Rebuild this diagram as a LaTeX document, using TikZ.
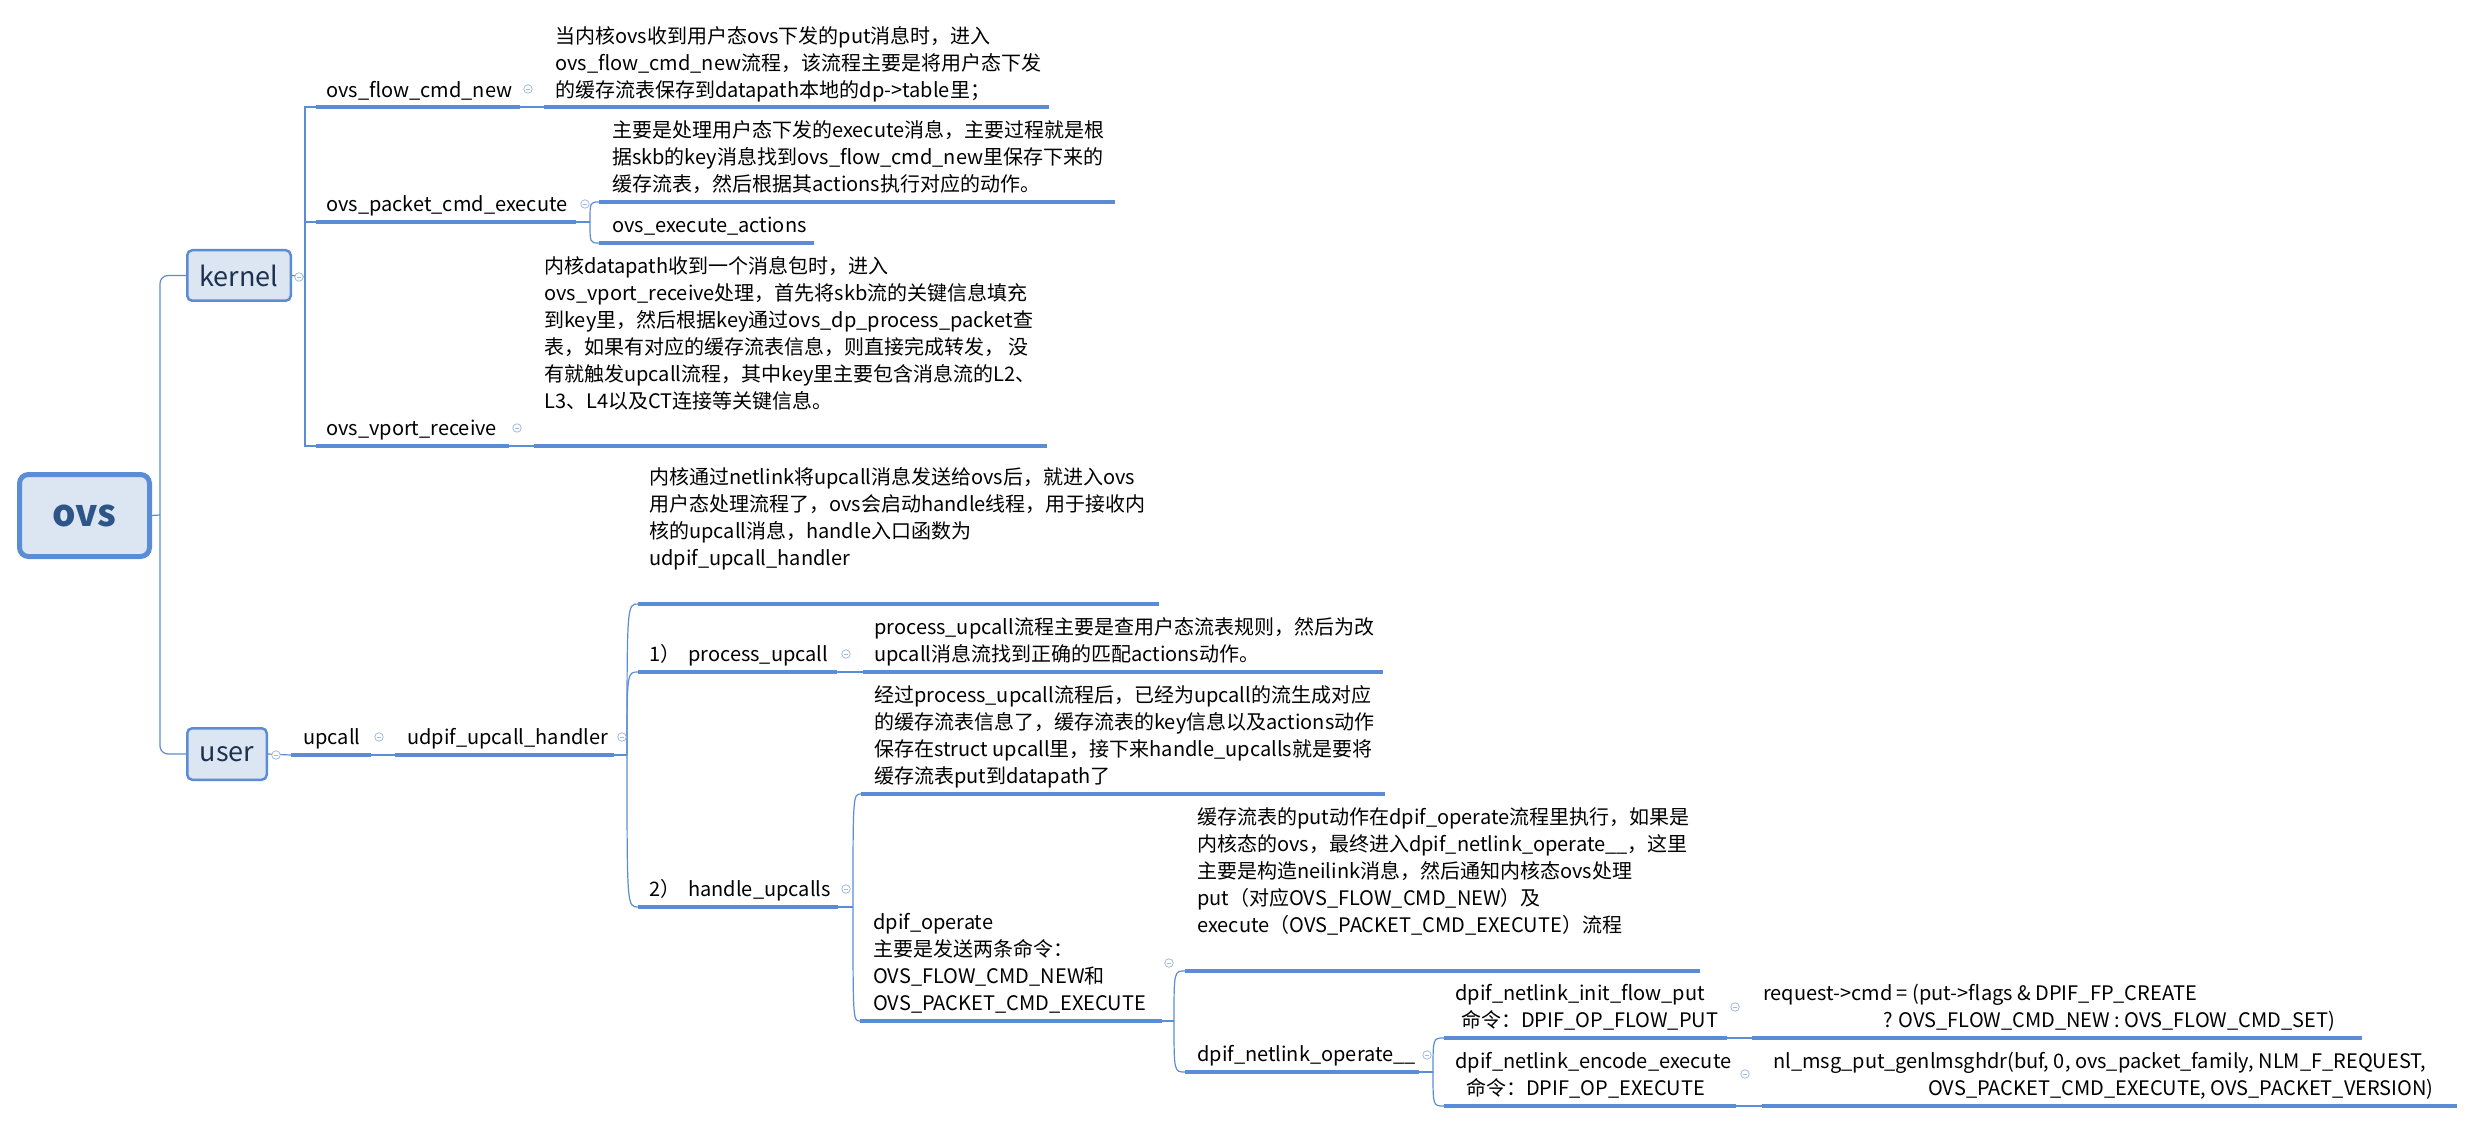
\documentclass[tikz,border=0pt]{standalone}
\usepackage{fontspec}
\setmainfont{Noto Sans CJK SC}
\definecolor{lineblue}{RGB}{91,141,214}
\definecolor{boxfill}{RGB}{220,230,242}
\definecolor{togcol}{RGB}{160,185,225}
\definecolor{ovstext}{RGB}{45,85,135}
\definecolor{kertext}{RGB}{30,50,80}
\begin{document}
\begin{tikzpicture}[x=1pt,y=-1pt,
  uline/.style={draw=lineblue,line width=3.2pt},
  conn/.style={draw=lineblue,line width=1.2pt},
  txt/.style={anchor=north west,yshift=18.9pt,inner sep=0pt,align=left,font=\fontsize{20pt}{27pt}\selectfont},
  rootbox/.style={draw=lineblue,line width=5pt,fill=boxfill,rounded corners=9pt,minimum width=130pt,minimum height=82pt,inner sep=0pt,font=\fontsize{37pt}{40pt}\selectfont\bfseries,text=ovstext},
  subbox/.style={draw=lineblue,line width=2.5pt,fill=boxfill,rounded corners=5pt,inner sep=0pt,font=\fontsize{27pt}{30pt}\selectfont,text=kertext},
  tog/.style={circle,draw=togcol,fill=white,line width=0.8pt,minimum size=8.5pt,inner sep=0pt,
    path picture={\draw[togcol,line width=0.8pt] ([xshift=-2.3pt]path picture bounding box.center) -- ([xshift=2.3pt]path picture bounding box.center);}}
]
\fill[white] (0,0) rectangle (2474,1123);
\useasboundingbox (0,0) rectangle (2474,1123);

% ---------- coordinates ----------
\coordinate (tJ) at (160,515);
\coordinate (kJ) at (305,277);
\coordinate (flowL) at (316,107); \coordinate (flowR) at (520,107);
\coordinate (flowdL) at (544,107); \coordinate (flowdR) at (1049,107);
\coordinate (pktL) at (316,222); \coordinate (pktR) at (576,222);
\coordinate (pktJ) at (590,222);
\coordinate (pktdL) at (599,202); \coordinate (pktdR) at (1115,202);
\coordinate (actL) at (599,243); \coordinate (actR) at (814,243);
\coordinate (vpL) at (316,446); \coordinate (vpR) at (509,446);
\coordinate (vpdL) at (534,446); \coordinate (vpdR) at (1047,446);
\coordinate (upL) at (291,755); \coordinate (upR) at (371,755);
\coordinate (udL) at (395,755); \coordinate (udR) at (614,755);
\coordinate (udJ) at (627,755);
\coordinate (nlL) at (638,604); \coordinate (nlR) at (1159,604);
\coordinate (prL) at (638,672); \coordinate (prR) at (837,672);
\coordinate (prdL) at (863,672); \coordinate (prdR) at (1383,672);
\coordinate (hdL) at (638,907); \coordinate (hdR) at (838,907);
\coordinate (hdJ) at (853,907);
\coordinate (hddL) at (861,794); \coordinate (hddR) at (1385,794);
\coordinate (opL) at (860,1021); \coordinate (opR) at (1162,1021);
\coordinate (opJ) at (1174,1021);
\coordinate (putL) at (1185,971); \coordinate (putR) at (1700,971);
\coordinate (nloL) at (1185,1072); \coordinate (nloR) at (1419,1072);
\coordinate (nloJ) at (1433,1072);
\coordinate (ifpL) at (1444,1038); \coordinate (ifpR) at (1727,1038);
\coordinate (reqL) at (1752,1038); \coordinate (reqR) at (2362,1038);
\coordinate (encL) at (1444,1106); \coordinate (encR) at (1736,1106);
\coordinate (nlmL) at (1762,1106); \coordinate (nlmR) at (2457,1106);

% ---------- boxes ----------
\node[rootbox] (ovs) at (84.5,515.5) {ovs};
\node[subbox,minimum width=103.5pt,minimum height=50.5pt] (kernel) at (239,275.5) {kernel};
\node[subbox,minimum width=79.5pt,minimum height=51.5pt] (user) at (227,754) {user};

% ---------- connectors ----------
\draw[conn] (ovs.east) -- (tJ);
\draw[conn,rounded corners=8pt] (kernel.west) -| (tJ) |- (user.west);
\draw[conn] (kernel.east) -- (kJ);
\draw[conn] (flowL) -- (flowL -| kJ) -- (vpL -| kJ) -- (vpL);
\draw[conn] (pktL) -- (pktL -| kJ);
\draw[conn] (flowR) -- (flowdL);
\draw[conn] (pktR) -- (pktJ);
\draw[conn] (pktJ) .. controls (pktJ |- pktdL) .. (pktdL);
\draw[conn] (pktJ) .. controls (pktJ |- actL) .. (actL);
\draw[conn] (vpR) -- (vpdL);
\draw[conn] (user.east) -- (upL);
\draw[conn] (upR) -- (udL);
\draw[conn] (udR) -- (udJ);
\draw[conn] (udJ) .. controls (udJ |- nlL) .. (nlL);
\draw[conn] (udJ) .. controls (udJ |- prL) .. (prL);
\draw[conn] (udJ) .. controls (udJ |- hdL) .. (hdL);
\draw[conn] (prR) -- (prdL);
\draw[conn] (hdR) -- (hdJ);
\draw[conn] (hdJ) .. controls (hdJ |- hddL) .. (hddL);
\draw[conn] (hdJ) .. controls (hdJ |- opL) .. (opL);
\draw[conn] (opR) -- (opJ);
\draw[conn] (opJ) .. controls (opJ |- putL) .. (putL);
\draw[conn] (opJ) .. controls (opJ |- nloL) .. (nloL);
\draw[conn] (nloR) -- (nloJ);
\draw[conn] (nloJ) .. controls (nloJ |- ifpL) .. (ifpL);
\draw[conn] (nloJ) .. controls (nloJ |- encL) .. (encL);
\draw[conn] (ifpR) -- (reqL);
\draw[conn] (encR) -- (nlmL);

% ---------- underlines ----------
\draw[uline] (flowL) -- (flowR);
\draw[uline] (flowdL) -- (flowdR);
\draw[uline] (pktL) -- (pktR);
\draw[uline] (pktdL) -- (pktdR);
\draw[uline] (actL) -- (actR);
\draw[uline] (vpL) -- (vpR);
\draw[uline] (vpdL) -- (vpdR);
\draw[uline] (upL) -- (upR);
\draw[uline] (udL) -- (udR);
\draw[uline] (nlL) -- (nlR);
\draw[uline] (prL) -- (prR);
\draw[uline] (prdL) -- (prdR);
\draw[uline] (hdL) -- (hdR);
\draw[uline] (hddL) -- (hddR);
\draw[uline] (opL) -- (opR);
\draw[uline] (putL) -- (putR);
\draw[uline] (nloL) -- (nloR);
\draw[uline] (ifpL) -- (ifpR);
\draw[uline] (reqL) -- (reqR);
\draw[uline] (encL) -- (encR);
\draw[uline] (nlmL) -- (nlmR);

% ---------- texts ----------
\node[txt] (flowT) at (326,97) {\strut ovs\_flow\_cmd\_new};
\node[txt] (flowD) at (555,43) {\strut 当内核ovs收到用户态ovs下发的put消息时，进入\\
ovs\_flow\_cmd\_new流程，该流程主要是将用户态下发\\
的缓存流表保存到datapath本地的dp->table里；};
\node[txt] (pktT) at (326,211.5) {\strut ovs\_packet\_cmd\_execute};
\node[txt] (pktD) at (612,137.5) {\strut 主要是处理用户态下发的execute消息，主要过程就是根\\
据skb的key消息找到ovs\_flow\_cmd\_new里保存下来的\\
缓存流表，然后根据其actions执行对应的动作。};
\node[txt] (actT) at (612,232.5) {\strut ovs\_execute\_actions};
\node[txt] (vpT) at (326,435.5) {\strut ovs\_vport\_receive};
\node[txt] (vpD) at (544,273) {\strut 内核datapath收到一个消息包时，进入\\
ovs\_vport\_receive处理，首先将skb流的关键信息填充\\
到key里，然后根据key通过ovs\_dp\_process\_packet查\\
表，如果有对应的缓存流表信息，则直接完成转发， 没\\
有就触发upcall流程，其中key里主要包含消息流的L2、\\
L3、L4以及CT连接等关键信息。};
\node[txt] (upT) at (303,744.5) {\strut upcall};
\node[txt] (udT) at (407,744.5) {\strut udpif\_upcall\_handler};
\node[txt] (nlD) at (649,484) {\strut 内核通过netlink将upcall消息发送给ovs后，就进入ovs\\
用户态处理流程了，ovs会启动handle线程，用于接收内\\
核的upcall消息，handle入口函数为\\
udpif\_upcall\_handler};
\node[txt] (prT) at (649,661.5) {\strut 1）\hspace{8pt}process\_upcall};
\node[txt] (prD) at (874,634.5) {\strut process\_upcall流程主要是查用户态流表规则，然后为改\\
upcall消息流找到正确的匹配actions动作。};
\node[txt] (hdT) at (649,896.5) {\strut 2）\hspace{8pt}handle\_upcalls};
\node[txt] (hdD) at (874,702.5) {\strut 经过process\_upcall流程后，已经为upcall的流生成对应\\
的缓存流表信息了，缓存流表的key信息以及actions动作\\
保存在struct upcall里，接下来handle\_upcalls就是要将\\
缓存流表put到datapath了};
\node[txt] (opT) at (873,929.5) {\strut dpif\_operate\\
主要是发送两条命令：\\
OVS\_FLOW\_CMD\_NEW和\\
OVS\_PACKET\_CMD\_EXECUTE};
\node[txt] (putD) at (1197,824) {\strut 缓存流表的put动作在dpif\_operate流程里执行，如果是\\
内核态的ovs，最终进入dpif\_netlink\_operate\_\_，这里\\
主要是构造neilink消息，然后通知内核态ovs处理\\
put（对应OVS\_FLOW\_CMD\_NEW）及\\
execute（OVS\_PACKET\_CMD\_EXECUTE）流程};
\node[txt] (nloT) at (1197,1061.5) {\strut dpif\_netlink\_operate\_\_};
\node[txt] (ifpT) at (1455,1000.5) {\strut dpif\_netlink\_init\_flow\_put\\
\hspace*{6pt}命令：DPIF\_OP\_FLOW\_PUT};
\node[txt] (reqD) at (1763,1000.5) {\strut request->cmd = (put->flags \& DPIF\_FP\_CREATE\\
\hspace*{120pt}? OVS\_FLOW\_CMD\_NEW : OVS\_FLOW\_CMD\_SET)};
\node[txt] (encT) at (1455,1068.5) {\strut dpif\_netlink\_encode\_execute\\
\hspace*{11pt}命令：DPIF\_OP\_EXECUTE};
\node[txt] (nlmD) at (1773,1068.5) {\strut nl\_msg\_put\_genlmsghdr(buf, 0, ovs\_packet\_family, NLM\_F\_REQUEST,\\
\hspace*{155pt}OVS\_PACKET\_CMD\_EXECUTE, OVS\_PACKET\_VERSION)};

% ---------- toggles ----------
\node[tog] (tgKernel) at (299,277) {};
\node[tog] (tgUser) at (276,755) {};
\node[tog] (tgFlow) at (528,89) {};
\node[tog] (tgPkt) at (585,204) {};
\node[tog] (tgVp) at (517,428) {};
\node[tog] (tgUp) at (379,737) {};
\node[tog] (tgUd) at (622,737) {};
\node[tog] (tgPr) at (846,654) {};
\node[tog] (tgHd) at (846,889) {};
\node[tog] (tgOp) at (1169,963) {};
\node[tog] (tgNlo) at (1427,1055) {};
\node[tog] (tgIfp) at (1735,1007) {};
\node[tog] (tgEnc) at (1745,1074) {};
\end{tikzpicture}
\end{document}
